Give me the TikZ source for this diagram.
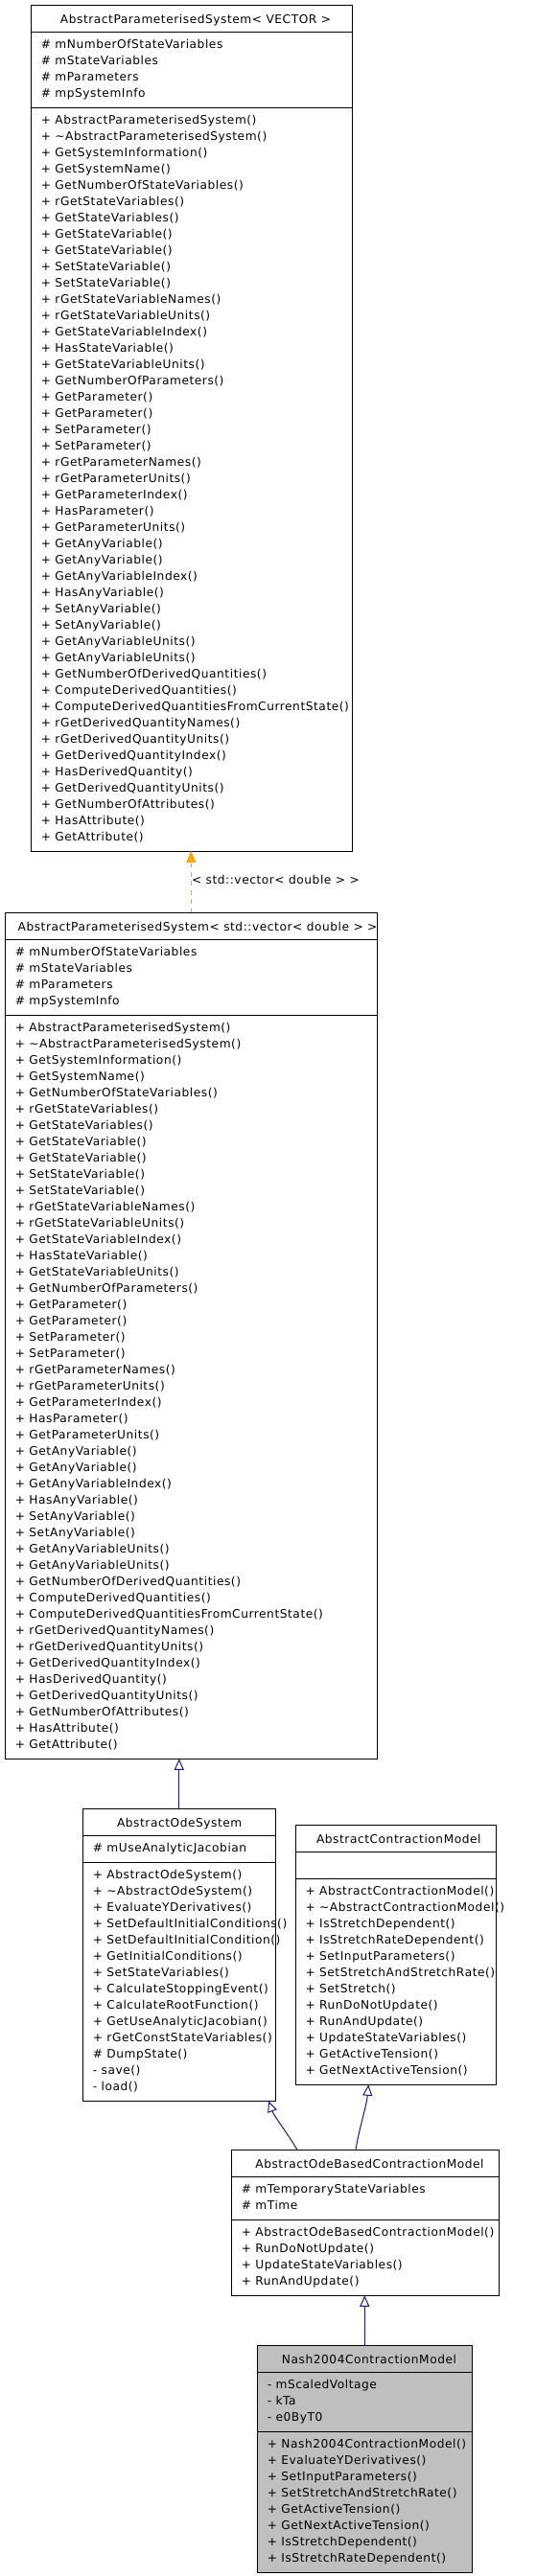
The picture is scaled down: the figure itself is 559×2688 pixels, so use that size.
\documentclass[tikz,border=0pt]{standalone}
\usepackage{fontspec}
\setmainfont{DejaVu Sans}
\newfontfamily\clsfont{DejaVu Sans}[LetterSpace=4.5]
\usetikzlibrary{arrows.meta,calc}
\definecolor{inhblue}{HTML}{191970}
\definecolor{tplorange}{HTML}{FFA500}
\definecolor{curgray}{HTML}{BFBFBF}
\newcommand\clsfnt{\clsfont\fontsize{12.2}{17}\selectfont}
\tikzset{
  umlbox/.style={draw=black, line width=1pt, fill=white, inner sep=0pt, outer sep=0pt, rectangle},
  umlsep/.style={draw=black, line width=1pt},
  clsline/.style={anchor=base west, inner sep=0pt, outer sep=0pt, font=\clsfnt},
  clstitle/.style={anchor=base, inner sep=0pt, outer sep=0pt, font=\clsfnt},
  inherit/.style={draw=inhblue, line width=1pt, -{Triangle[open, length=11.5pt, width=10pt, line width=1pt]}},
  tplarrow/.style={draw=tplorange, line width=1pt, dash pattern=on 4.7pt off 4.7pt, -{Triangle[length=12pt, width=10pt, fill=tplorange]}},
}
% #1 name, #2 x, #3 y, #4 w, #5 nattr, #6 nmeth, #7 fill, #8 attrs, #9 methods
\newcommand\umlclass[9]{%
  \pgfmathsetmacro\hA{17*#5+11}%
  \pgfmathsetmacro\hM{17*#6+11}%
  \node[umlbox, fill=#7, minimum width=#4, minimum height={28+\hA+\hM}, anchor=north west] (#1) at (#2,#3) {};
  \draw[umlsep] ($(#1.north west)+(0,28)$) -- ($(#1.north east)+(0,28)$);
  \draw[umlsep] ($(#1.north west)+(0,28+\hA)$) -- ($(#1.north east)+(0,28+\hA)$);
  \if\relax\detokenize{#8}\relax\else
    \foreach \s [count=\i] in {#8} \node[clsline] (#1-a\i) at ({#2+10.5},{#3+28+17*\i}) {\s};
  \fi
  \foreach \s [count=\i] in {#9} \node[clsline] (#1-m\i) at ({#2+10.5},{#3+28+\hA+17*\i}) {\s};
}
\begin{document}
\begin{tikzpicture}[x=1pt,y=-1pt]
\useasboundingbox (0,0) rectangle (559,2688);

\umlclass{b1}{32.3}{5}{335}{4}{45}{white}{\# mNumberOfStateVariables,\# mStateVariables,\# mParameters,\# mpSystemInfo}{+ AbstractParameterisedSystem(),+ \textasciitilde AbstractParameterisedSystem(),+ GetSystemInformation(),+ GetSystemName(),+ GetNumberOfStateVariables(),+ rGetStateVariables(),+ GetStateVariables(),+ GetStateVariable(),+ GetStateVariable(),+ SetStateVariable(),+ SetStateVariable(),+ rGetStateVariableNames(),+ rGetStateVariableUnits(),+ GetStateVariableIndex(),+ HasStateVariable(),+ GetStateVariableUnits(),+ GetNumberOfParameters(),+ GetParameter(),+ GetParameter(),+ SetParameter(),+ SetParameter(),+ rGetParameterNames(),+ rGetParameterUnits(),+ GetParameterIndex(),+ HasParameter(),+ GetParameterUnits(),+ GetAnyVariable(),+ GetAnyVariable(),+ GetAnyVariableIndex(),+ HasAnyVariable(),+ SetAnyVariable(),+ SetAnyVariable(),+ GetAnyVariableUnits(),+ GetAnyVariableUnits(),+ GetNumberOfDerivedQuantities(),+ ComputeDerivedQuantities(),+ ComputeDerivedQuantitiesFromCurrentState(),+ rGetDerivedQuantityNames(),+ rGetDerivedQuantityUnits(),+ GetDerivedQuantityIndex(),+ HasDerivedQuantity(),+ GetDerivedQuantityUnits(),+ GetNumberOfAttributes(),+ HasAttribute(),+ GetAttribute()}
\node[clstitle] (b1t) at (204,24.3) {AbstractParameterisedSystem< VECTOR >};

\umlclass{b2}{5.3}{952.3}{388}{4}{45}{white}{\# mNumberOfStateVariables,\# mStateVariables,\# mParameters,\# mpSystemInfo}{+ AbstractParameterisedSystem(),+ \textasciitilde AbstractParameterisedSystem(),+ GetSystemInformation(),+ GetSystemName(),+ GetNumberOfStateVariables(),+ rGetStateVariables(),+ GetStateVariables(),+ GetStateVariable(),+ GetStateVariable(),+ SetStateVariable(),+ SetStateVariable(),+ rGetStateVariableNames(),+ rGetStateVariableUnits(),+ GetStateVariableIndex(),+ HasStateVariable(),+ GetStateVariableUnits(),+ GetNumberOfParameters(),+ GetParameter(),+ GetParameter(),+ SetParameter(),+ SetParameter(),+ rGetParameterNames(),+ rGetParameterUnits(),+ GetParameterIndex(),+ HasParameter(),+ GetParameterUnits(),+ GetAnyVariable(),+ GetAnyVariable(),+ GetAnyVariableIndex(),+ HasAnyVariable(),+ SetAnyVariable(),+ SetAnyVariable(),+ GetAnyVariableUnits(),+ GetAnyVariableUnits(),+ GetNumberOfDerivedQuantities(),+ ComputeDerivedQuantities(),+ ComputeDerivedQuantitiesFromCurrentState(),+ rGetDerivedQuantityNames(),+ rGetDerivedQuantityUnits(),+ GetDerivedQuantityIndex(),+ HasDerivedQuantity(),+ GetDerivedQuantityUnits(),+ GetNumberOfAttributes(),+ HasAttribute(),+ GetAttribute()}
\node[clstitle] (b2t) at (206,971.3) {AbstractParameterisedSystem< std::vector< double > >};

\umlclass{b3}{86.3}{1887.3}{201}{1}{14}{white}{\# mUseAnalyticJacobian}{+ AbstractOdeSystem(),+ \textasciitilde AbstractOdeSystem(),+ EvaluateYDerivatives(),+ SetDefaultInitialConditions(),+ SetDefaultInitialCondition(),+ GetInitialConditions(),+ SetStateVariables(),+ CalculateStoppingEvent(),+ CalculateRootFunction(),+ GetUseAnalyticJacobian(),+ rGetConstStateVariables(),\# DumpState(),- save(),- load()}
\node[clstitle] (b3t) at (187.2,1906.3) {AbstractOdeSystem};

\umlclass{b4}{308}{1904.3}{209}{1}{12}{white}{}{+ AbstractContractionModel(),+ \textasciitilde AbstractContractionModel(),+ IsStretchDependent(),+ IsStretchRateDependent(),+ SetInputParameters(),+ SetStretchAndStretchRate(),+ SetStretch(),+ RunDoNotUpdate(),+ RunAndUpdate(),+ UpdateStateVariables(),+ GetActiveTension(),+ GetNextActiveTension()}
\node[clstitle] (b4t) at (415.8,1923.3) {AbstractContractionModel};

\umlclass{b5}{241.3}{2243.3}{279}{2}{4}{white}{\# mTemporaryStateVariables,\# mTime}{+ AbstractOdeBasedContractionModel(),+ RunDoNotUpdate(),+ UpdateStateVariables(),+ RunAndUpdate()}
\node[clstitle] (b5t) at (385.5,2262.3) {AbstractOdeBasedContractionModel};

\umlclass{b6}{268.3}{2447.3}{224}{3}{8}{curgray}{- mScaledVoltage,- kTa,- e0ByT0}{+ Nash2004ContractionModel(),+ EvaluateYDerivatives(),+ SetInputParameters(),+ SetStretchAndStretchRate(),+ GetActiveTension(),+ GetNextActiveTension(),+ IsStretchDependent(),+ IsStretchRateDependent()}
\node[clstitle] (b6t) at (385,2466.3) {Nash2004ContractionModel};

% connectors
\draw[tplarrow] (b2.north) -- (b2.north |- b1.south);
\node[clsline] (tlabel) at (200,922.7) {< std::vector< double > >};
\draw[inherit] (b3.north) -- (b3.north |- b2.south);
\coordinate (c53s) at ($(b5.north west)+(68.7,0)$);
\coordinate (c53e) at ($(b3.south east)+(-7.3,0)$);
\draw[inherit] (c53s) .. controls +(-8,-14) and +(6,16) .. (c53e);
\coordinate (c54s) at ($(b5.north west)+(129.7,0)$);
\coordinate (c54e) at ($(b4.south west)+(76.3,0)$);
\draw[inherit] (c54s) .. controls +(3,-20) and +(-2,22) .. (c54e);
\draw[inherit] (b6.north) -- (b6.north |- b5.south);
\end{tikzpicture}
\end{document}
